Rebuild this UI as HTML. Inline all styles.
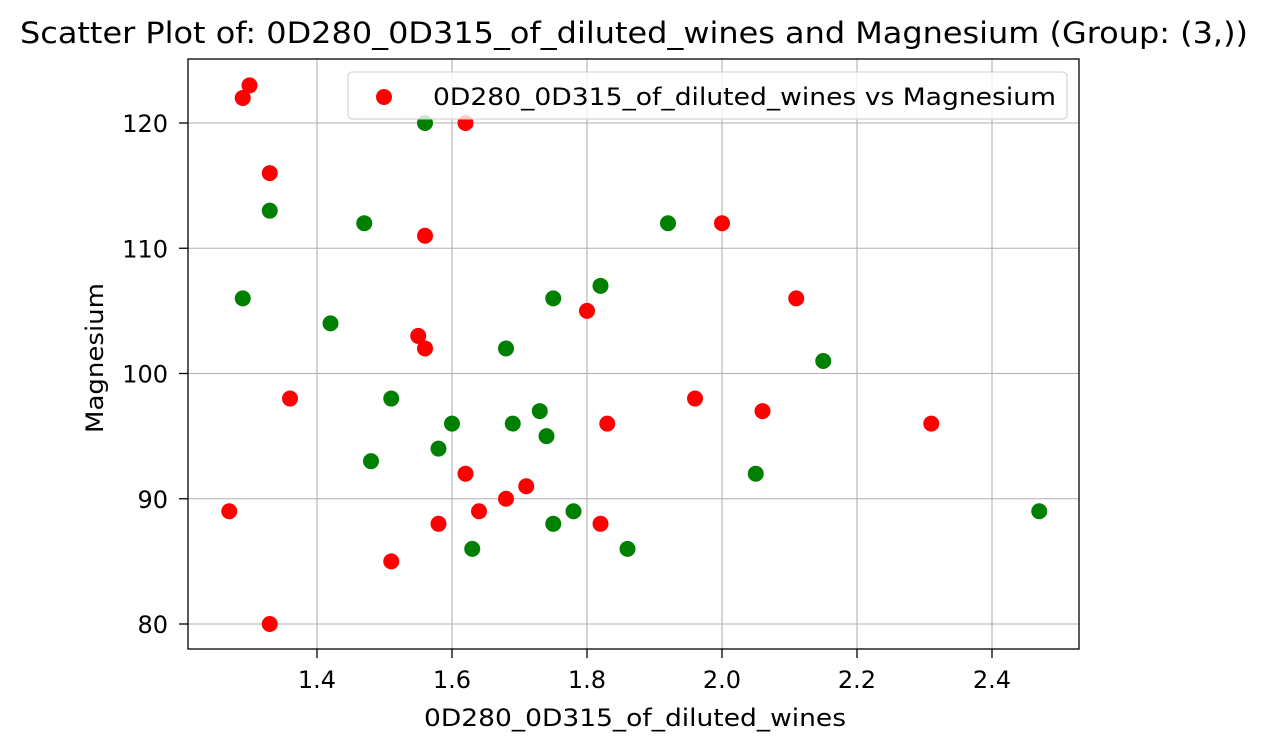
<!DOCTYPE html>
<html><head><meta charset="utf-8"><style>
body{margin:0;background:#fff;}
svg{display:block;font-family:"DejaVu Sans","Liberation Sans",sans-serif;}
</style></head><body>
<svg id="chart" width="1268" height="751">
<rect x="0" y="0" width="1268" height="751" fill="#fff"/>
<g id="grid"></g>
<g id="pts"></g>
<rect x="188" y="59" width="891" height="590" fill="none" stroke="#000" stroke-width="1.3"/>
<g id="ticks"></g>
<text x="20" y="43" font-size="29" textLength="1228" lengthAdjust="spacingAndGlyphs">Scatter Plot of: 0D280_0D315_of_diluted_wines and Magnesium (Group: (3,))</text>
<text x="424" y="726" font-size="24" textLength="422" lengthAdjust="spacingAndGlyphs">0D280_0D315_of_diluted_wines</text>
<text transform="translate(103,433) rotate(-90)" font-size="24" textLength="150" lengthAdjust="spacingAndGlyphs">Magnesium</text>
<g>
<rect x="348" y="72" width="719" height="47" rx="4" fill="#fff" fill-opacity="0.8" stroke="#ccc"/>
<circle cx="384" cy="97" r="8" fill="red"/>
<text x="433" y="105" font-size="24" textLength="623" lengthAdjust="spacingAndGlyphs">0D280_0D315_of_diluted_wines vs Magnesium</text>
</g>
</svg>
<script>
const redX=[1.29,1.30,1.33,1.62,1.56,1.55,1.56,1.36,1.27,1.33,1.51,1.58,1.62,1.64,1.68,1.71,1.80,1.83,1.82,1.96,2.00,2.11,2.06,2.31];
const redY=[122,123,116,120,111,103,102,98,89,80,85,88,92,89,90,91,105,96,88,98,112,106,97,96];
const greenX=[1.56,1.33,1.47,1.29,1.42,1.51,1.48,1.58,1.60,1.63,1.68,1.69,1.73,1.74,1.75,1.75,1.78,1.82,1.86,1.92,2.05,2.15,2.47];
const greenY=[120,113,112,106,104,98,93,94,96,86,102,96,97,95,106,88,89,107,86,112,92,101,89];
const xTicks=[1.4,1.6,1.8,2.0,2.2,2.4];
const yTicks=[80,90,100,110,120];
const ns="http://www.w3.org/2000/svg";
const sx=v=>317+(v-1.4)*675;
const sy=v=>123+(120-v)*12.525;
const grid=document.getElementById('grid'),ticks=document.getElementById('ticks'),pts=document.getElementById('pts');
function mk(tag,attrs,parent){const e=document.createElementNS(ns,tag);for(const k in attrs)e.setAttribute(k,attrs[k]);parent.appendChild(e);return e;}
xTicks.forEach(t=>{const x=sx(t);
const g=mk('line',{x1:x,x2:x,y1:59,y2:649,stroke:'#b0b0b0','stroke-width':1.1},grid);


mk('line',{x1:x,x2:x,y1:649,y2:658,stroke:'#000','stroke-width':1.3},ticks);
const tx=mk('text',{x:x,y:688,'text-anchor':'middle','font-size':24},ticks);tx.textContent=t.toFixed(1);

});
yTicks.forEach(t=>{const y=sy(t);
const g=mk('line',{x1:188,x2:1079,y1:y,y2:y,stroke:'#b0b0b0','stroke-width':1.1},grid);


mk('line',{x1:179,x2:188,y1:y,y2:y,stroke:'#000','stroke-width':1.3},ticks);
const tx=mk('text',{x:168,y:y+9,'text-anchor':'end','font-size':24},ticks);tx.textContent=t;

});
redX.forEach((v,i)=>{const c=mk('circle',{cx:sx(v),cy:sy(redY[i]),r:8,fill:'red'},pts);

});
greenX.forEach((v,i)=>{const c=mk('circle',{cx:sx(v),cy:sy(greenY[i]),r:8,fill:'green'},pts);

});
</script>
</body></html>
